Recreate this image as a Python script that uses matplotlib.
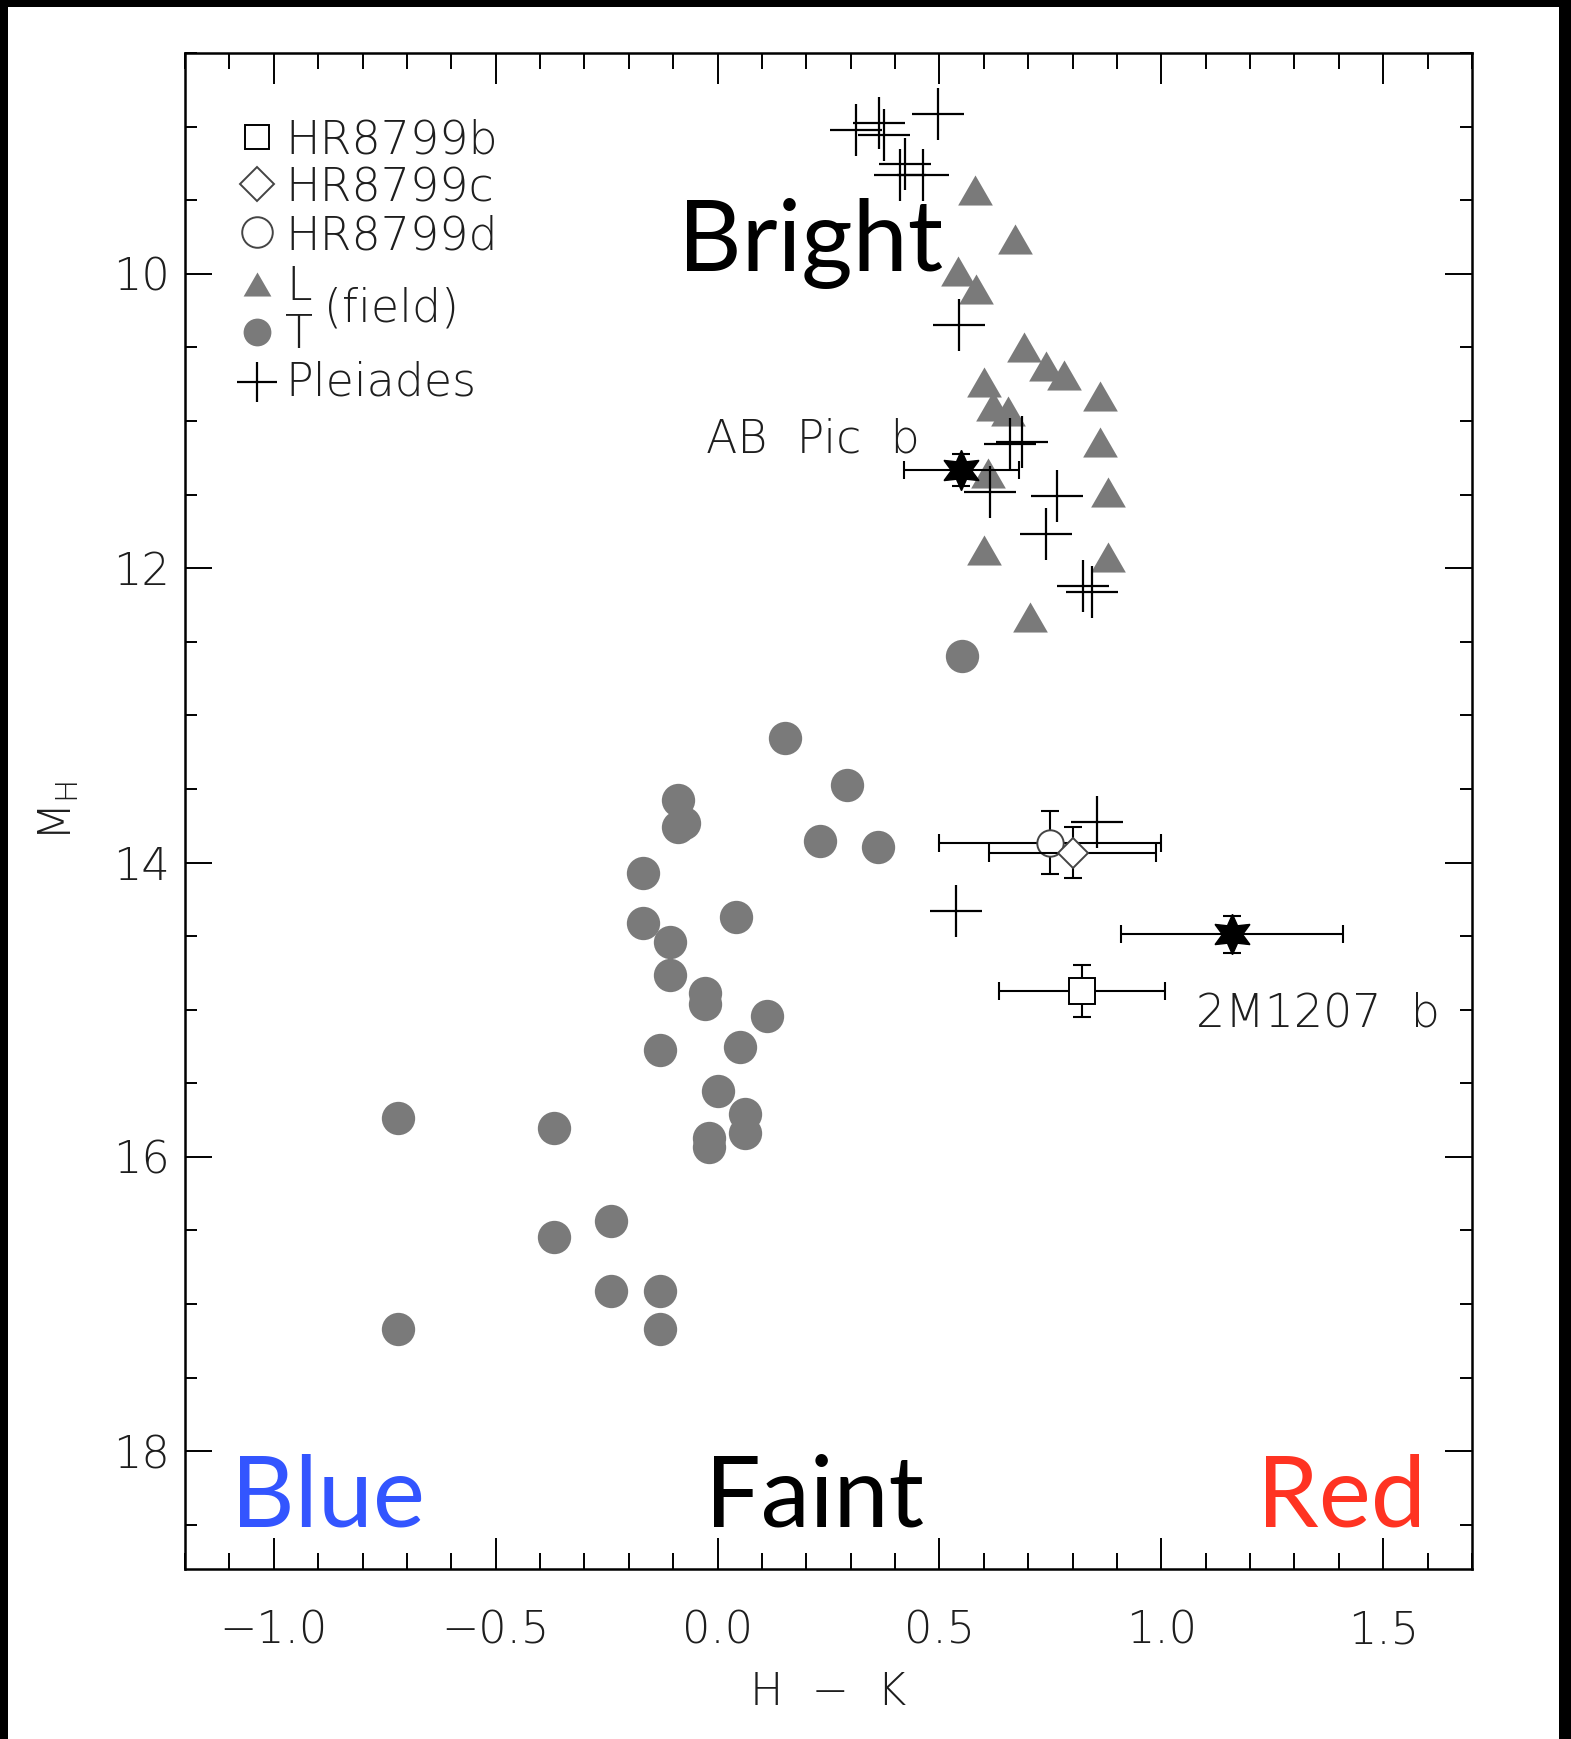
import matplotlib
matplotlib.use('Agg')
import matplotlib.pyplot as plt
from matplotlib.patches import Rectangle
from matplotlib.ticker import MultipleLocator, FuncFormatter

plt.rcParams['mathtext.fontset'] = 'custom'
plt.rcParams['mathtext.rm'] = 'DejaVu Sans:light'
plt.rcParams['mathtext.it'] = 'DejaVu Sans:light'

# ---------------- data ----------------
# L dwarfs (field)
L_hk = [0.581, 0.671, 0.542, 0.583, 0.690, 0.741, 0.780, 0.861, 0.600, 0.621,
        0.654, 0.861, 0.609, 0.880, 0.600, 0.880, 0.705]
L_mh = [9.428, 9.766, 9.982, 10.105, 10.495, 10.625, 10.688, 10.828, 10.737, 10.898,
        10.932, 11.146, 11.354, 11.484, 11.874, 11.926, 12.330]

# T dwarfs (field)
T_hk = [0.551, 0.151, 0.292, -0.0885, -0.090, -0.075, 0.231, 0.361, -0.169, 0.042,
        -0.169, -0.108, -0.108, -0.029, -0.029, 0.111, -0.129, 0.051, 0.001, 0.061,
        0.061, -0.019, -0.019, -0.719, -0.369, -0.369, -0.239, -0.239, -0.129, -0.129,
        -0.719]
T_mh = [12.60, 13.154, 13.473, 13.573, 13.760, 13.730, 13.856, 13.896, 14.074, 14.372,
        14.414, 14.542, 14.763, 14.889, 14.964, 15.043, 15.273, 15.252, 15.553, 15.708,
        15.835, 15.875, 15.936, 15.733, 15.805, 16.543, 16.434, 16.913, 16.913, 17.172,
        17.172]

# Pleiades
P_hk = [0.496, 0.311, 0.364, 0.374, 0.422, 0.412, 0.464, 0.544, 0.660, 0.686,
        0.613, 0.765, 0.739, 0.823, 0.844, 0.855, 0.537]
P_mh = [8.917, 9.025, 8.975, 9.059, 9.252, 9.331, 9.331, 10.347, 11.155, 11.145,
        11.480, 11.512, 11.768, 12.120, 12.165, 13.725, 14.330]

# HR8799 planets: b, c, d
HR_names = ['HR8799b', 'HR8799c', 'HR8799d']
HR_hk = [0.8205, 0.800, 0.750]
HR_mh = [14.874, 13.933, 13.865]
HR_hk_err = [0.187, 0.188, 0.250]
HR_mh_err = [0.176, 0.175, 0.213]

# young companions (filled stars)
comp_names = ['AB  Pic  b', '2M1207  b']
comp_hk = [0.549, 1.160]
comp_mh = [11.335, 14.489]
comp_hk_err = [0.13, 0.25]
comp_mh_err = [0.11, 0.127]

x_ticks = [-1.0, -0.5, 0.0, 0.5, 1.0, 1.5]
y_ticks = [10, 12, 14, 16, 18]

GRAY = '#7a7a7a'
TXT = '#1e1e1e'
THIN = dict(family='DejaVu Sans', fontweight='light')

# ---------------- figure ----------------
fig = plt.figure(figsize=(15.71, 17.39), dpi=100)
fig.patch.set_facecolor('black')
fig.patches.append(Rectangle((8 / 1571, 0), 1551 / 1571, 1732 / 1739,
                             transform=fig.transFigure, facecolor='white',
                             edgecolor='none', zorder=-10))
ax = fig.add_axes([185 / 1571, 170 / 1739, 1287 / 1571, 1516 / 1739])

ax.set_xlim(-1.2, 1.7)
ax.set_ylim(18.8, 8.5)

# field dwarfs
tri = [(-0.5, -0.433), (0.5, -0.433), (0.0, 0.433)]
ax.plot(L_hk, L_mh, linestyle='none', marker=tri, ms=25, color=GRAY, mec='none', zorder=2)
ax.plot(T_hk, T_mh, linestyle='none', marker='o', ms=24, color=GRAY, mec='none', zorder=2)

# Pleiades
ax.plot(P_hk, P_mh, linestyle='none', marker='+', ms=37, mew=1.6, color='black', zorder=3)

# HR8799 planets
hr_markers = ['s', 'D', 'o']
hr_ms = [18.5, 15, 19]
hr_ec = ['black', '#444444', '#444444']
hr_z = [5, 6, 5]
for i in range(3):
    ax.errorbar(HR_hk[i], HR_mh[i], xerr=HR_hk_err[i], yerr=HR_mh_err[i],
                fmt='none', ecolor='black', elinewidth=1.5, capsize=6.3, capthick=1.5,
                zorder=hr_z[i])
    ax.plot(HR_hk[i], HR_mh[i], marker=hr_markers[i], ms=hr_ms[i], mfc='white',
            mec=hr_ec[i], mew=1.4, linestyle='none', zorder=hr_z[i] + 0.5)

# companions
for i in range(2):
    ax.errorbar(comp_hk[i], comp_mh[i], xerr=comp_hk_err[i], yerr=comp_mh_err[i],
                fmt='none', ecolor='black', elinewidth=1.5, capsize=6.3, capthick=1.5,
                zorder=7)
    ax.plot(comp_hk[i], comp_mh[i], marker=(6, 1, 0), ms=29, color='black',
            linestyle='none', zorder=7.5)

ax.text(-0.025, 11.213, comp_names[0], fontsize=33, color=TXT, ha='left', va='baseline', **THIN)
ax.text(1.079, 15.116, comp_names[1], fontsize=33, color=TXT, ha='left', va='baseline', **THIN)

# big annotations
big = dict(fontsize=71, family=['Lato', 'DejaVu Sans'], ha='left', va='baseline')
ax.text(-0.088, 9.982, 'Bright', color='black', **big)
ax.text(-1.097, 18.51, 'Blue', color='#3355ff', **big)
ax.text(-0.028, 18.51, 'Faint', color='black', **big)
ax.text(1.216, 18.51, 'Red', color='#ff3322', **big)

# legend (drawn manually in axes coordinates)
lx = 0.0559
tx = 0.0777
leg_fs = 33
ax.plot([lx], [0.9444], transform=ax.transAxes, marker='s', ms=17, mfc='white',
        mec='black', mew=1.4, clip_on=False)
ax.plot([lx], [0.9134], transform=ax.transAxes, marker='D', ms=17, mfc='white',
        mec='#444444', mew=1.4, clip_on=False)
ax.plot([lx], [0.8817], transform=ax.transAxes, marker='o', ms=22, mfc='white',
        mec='#444444', mew=1.4, clip_on=False)
ax.plot([lx], [0.8476], transform=ax.transAxes, marker=tri, ms=20, color=GRAY,
        mec='none', clip_on=False)
ax.plot([lx], [0.8162], transform=ax.transAxes, marker='o', ms=20, color=GRAY,
        mec='none', clip_on=False)
ax.plot([lx], [0.7832], transform=ax.transAxes, marker='+', ms=29, mew=1.6,
        color='black', clip_on=False)
lt = dict(transform=ax.transAxes, fontsize=leg_fs, color=TXT, va='baseline', **THIN)
ax.text(tx, 0.9334, 'HR8799b', **lt)
ax.text(tx, 0.9019, 'HR8799c', **lt)
ax.text(tx, 0.8705, 'HR8799d', **lt)
ax.text(0.0785, 0.8371, 'L', **lt)
ax.text(0.0775, 0.8052, 'T', **lt)
ax.text(0.108, 0.8230, '(field)', **lt)
ax.text(tx, 0.7744, 'Pleiades', **lt)

# axes styling
ax.set_xticks(x_ticks)
ax.set_yticks(y_ticks)
ax.xaxis.set_minor_locator(MultipleLocator(0.1))
ax.yaxis.set_minor_locator(MultipleLocator(0.5))
ax.xaxis.set_major_formatter(FuncFormatter(lambda v, p: ('%.1f' % v).replace('-', '\u2212')))
ax.tick_params(axis='both', which='both', direction='in', top=True, right=True,
               color='black', width=1.4)
ax.tick_params(axis='x', which='major', length=22, pad=29, labelsize=32, labelcolor=TXT)
ax.tick_params(axis='x', which='minor', length=11.5)
ax.tick_params(axis='y', which='major', length=19.5, pad=11, labelsize=32, labelcolor=TXT)
ax.tick_params(axis='y', which='minor', length=8.6)
for lab in ax.get_xticklabels() + ax.get_yticklabels():
    lab.set_fontweight('light')
for s in ax.spines.values():
    s.set_linewidth(1.8)

ax.set_xlabel('H  \u2212  K', fontsize=32, color=TXT, **THIN)
ax.xaxis.set_label_coords(0.5, -0.067)
ax.set_ylabel(r'M$_{\mathrm{H}}$', fontsize=32, color=TXT, **THIN)
ax.yaxis.set_label_coords(-0.081, 0.5)

fig.savefig('out.png', dpi=100, facecolor=fig.get_facecolor())
